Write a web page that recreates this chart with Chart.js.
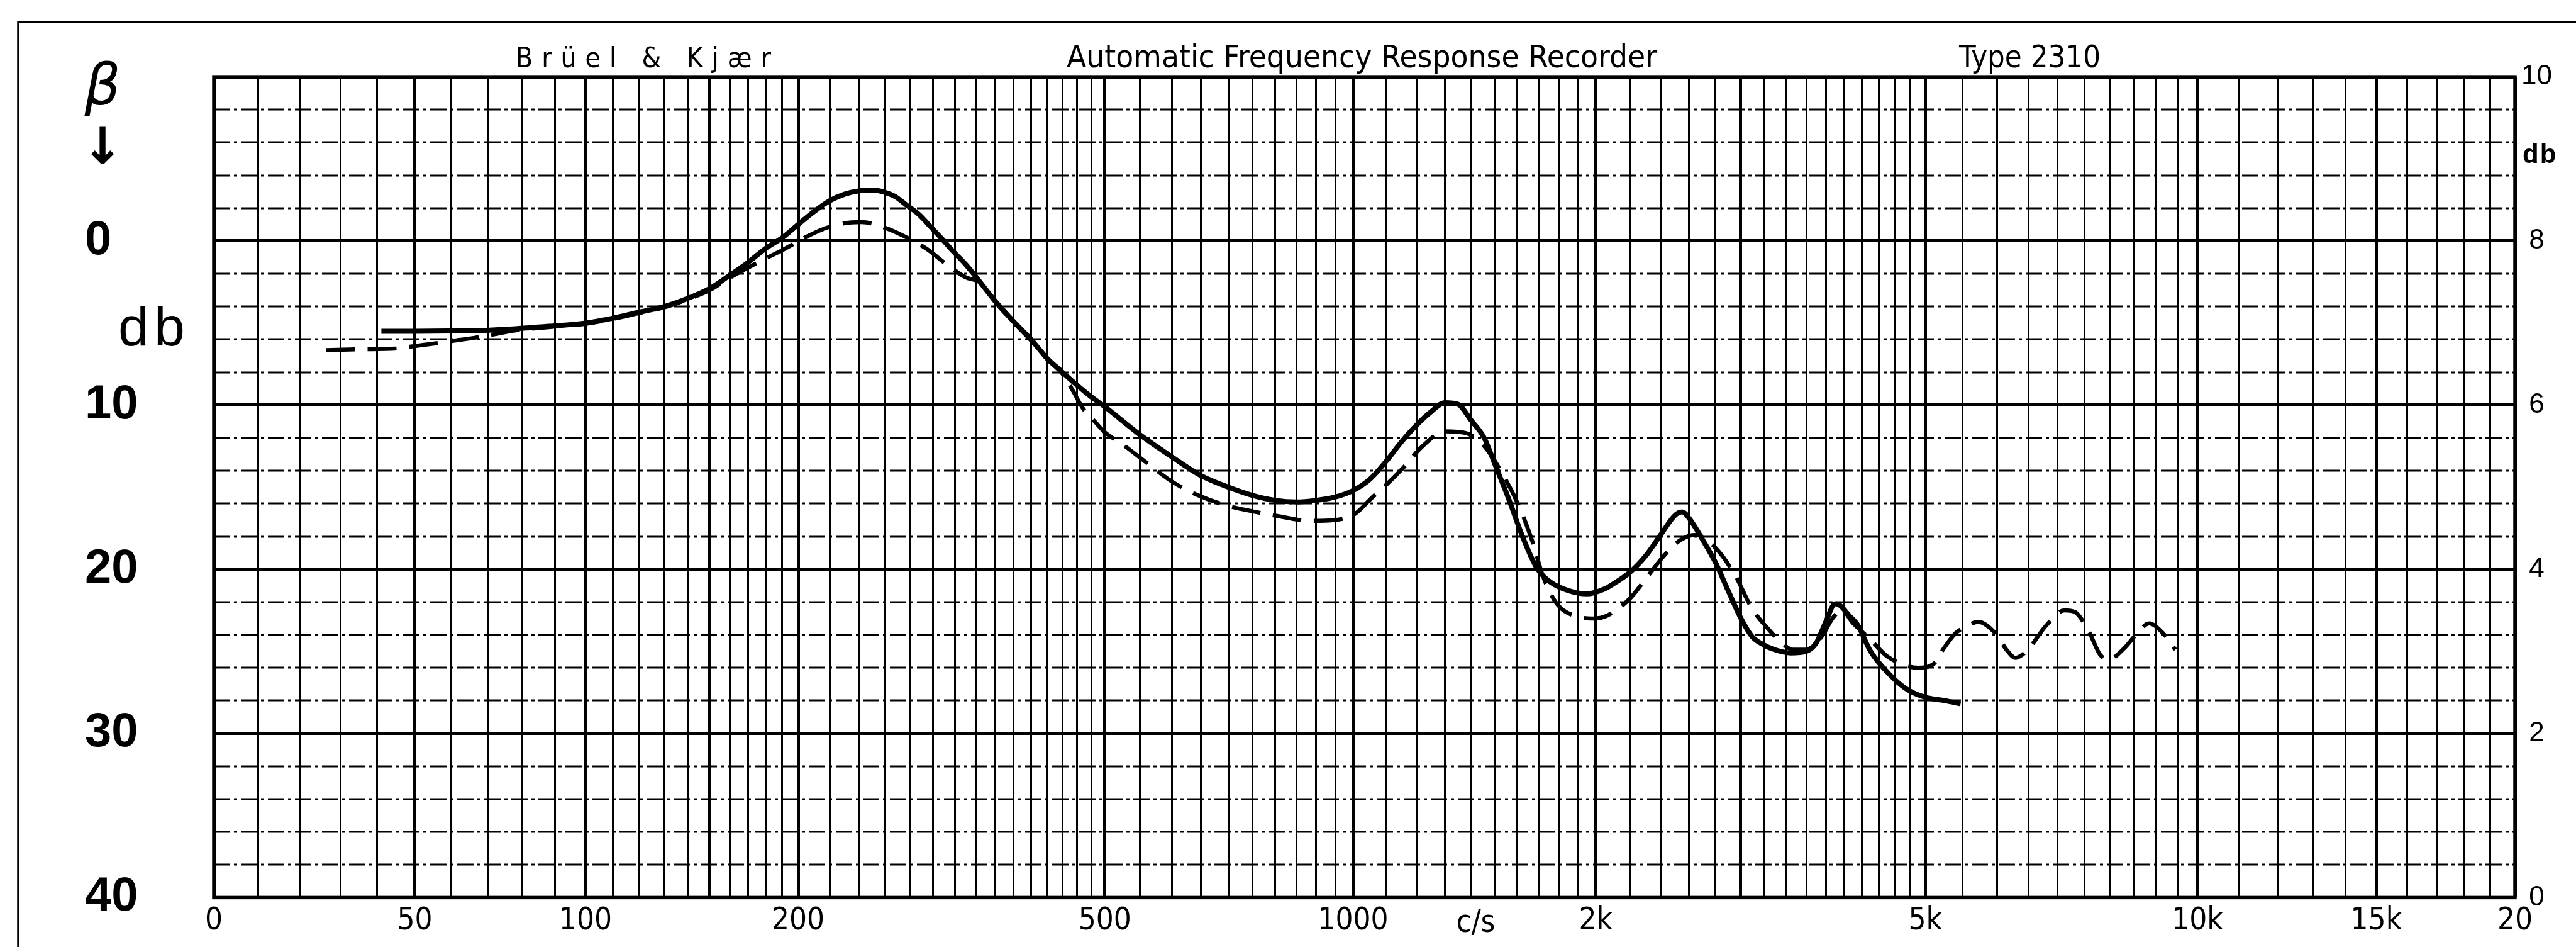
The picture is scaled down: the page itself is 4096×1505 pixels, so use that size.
<!DOCTYPE html>
<html>
<head>
<meta charset="utf-8">
<script src="https://cdn.jsdelivr.net/npm/chart.js@4.4.1/dist/chart.umd.min.js"></script>
<style>
  html, body { margin: 0; padding: 0; background: #fff; }
  #wrap { width: 4096px; height: 1505px; }
</style>
</head>
<body>
<div id="wrap"><canvas id="recorder" width="4096" height="1505"></canvas></div>
<script>
// frequency scale printed on the 2310 paper (c/s -> percent of chart width)
const paperFreqs = [0, 10, 20, 30, 40, 50, 60, 70, 80, 90, 100, 120, 150, 200, 300, 400, 500, 700,
  1000, 1500, 2000, 3000, 5000, 7000, 10000, 15000, 20000];
const paperPos = [0, 1.92, 3.74, 5.50, 7.10, 8.73, 10.33, 11.94, 13.40, 14.82, 16.15, 18.45, 21.55, 25.39,
  31.24, 35.51, 38.72, 44.09, 49.51, 55.67, 60.05, 66.33, 74.37, 80.13, 86.20, 93.97, 100];

// printed grid: [from, to, step] in c/s
const gridSteps = [[0, 200, 10], [200, 500, 20], [500, 1000, 50], [1000, 2000, 100],
  [2000, 5000, 200], [5000, 10000, 500], [10000, 20000, 1000]];

const tickFreqs = [0, 50, 100, 200, 500, 1000, 2000, 5000, 10000, 15000, 20000];
const tickLabels = ['0', '50', '100', '200', '500', '1000', '2k', '5k', '10k', '15k', '20'];
const heavyFreqs = [0, 50, 100, 150, 200, 500, 1000, 2000, 3000, 5000, 10000, 15000, 20000];

// level, db (left scale goes down), right scale 0..10
const dbLabels = [0, 10, 20, 30, 40];
const rightLabels = [0, 2, 4, 6, 8, 10];

// solid trace
const solidHz = [41, 50, 60, 68, 78, 88, 100, 110, 120, 130, 140, 150, 160, 170, 180, 190, 200, 210, 220, 230,
  240, 250, 258, 268, 277, 288, 299, 310, 318, 330, 340, 360, 380, 400, 420, 440, 460, 480, 500, 550,
  600, 650, 700, 750, 800, 850, 900, 950, 1000, 1050, 1100, 1150, 1200, 1250, 1300, 1350, 1400, 1455, 1500, 1560,
  1620, 1690, 1760, 1850, 1950, 2050, 2100, 2200, 2300, 2400, 2500, 2550, 2600, 2700, 2800, 2900, 3000, 3100, 3200, 3300,
  3450, 3600, 3700, 3800, 3900, 3950, 4050, 4150, 4300, 4550, 4750, 5000, 5250, 5470];
const solidDb = [5.5, 5.5, 5.48, 5.45, 5.35, 5.2, 5.0, 4.7, 4.35, 4.0, 3.5, 2.9, 2.1, 1.3, 0.45, -0.2, -1.0, -1.8, -2.45, -2.85,
  -3.05, -3.1, -3.0, -2.7, -2.2, -1.6, -0.8, 0.0, 0.6, 1.4, 2.15, 3.65, 4.9, 6.0, 7.15, 8.0, 8.8, 9.5, 10.1, 11.8,
  13.15, 14.3, 15.0, 15.5, 15.8, 15.9, 15.8, 15.6, 15.2, 14.5, 13.4, 12.2, 11.2, 10.4, 9.85, 9.95, 10.9, 12.0, 13.6, 15.7,
  17.9, 19.9, 20.8, 21.3, 21.5, 21.2, 20.9, 20.2, 19.2, 17.9, 16.7, 16.5, 16.9, 18.2, 19.6, 21.3, 22.9, 24.1, 24.6, 24.9,
  25.1, 25.0, 24.5, 23.2, 22.1, 22.2, 22.8, 23.4, 25.0, 26.5, 27.3, 27.8, 28.0, 28.2];

// dashed trace
const dashHz = [26, 35, 45, 50, 55, 60, 66, 70, 78, 88, 100, 110, 120, 130, 140, 150, 160, 167, 180, 190,
  204, 215, 228, 242, 260, 275, 295, 312, 330, 345, 360, 380, 400, 420, 440, 455, 468, 485, 500, 525,
  560, 600, 645, 695, 755, 815, 880, 950, 1007, 1052, 1097, 1150, 1220, 1300, 1380, 1455, 1525, 1605, 1672, 1720,
  1790, 1904, 1990, 2070, 2200, 2300, 2420, 2540, 2650, 2800, 2960, 3100, 3250, 3350, 3470, 3600, 3700, 3770, 3870, 3970,
  4100, 4300, 4500, 4700, 4900, 5100, 5245, 5400, 5544, 5720, 5950, 6166, 6283, 6400, 6512, 6804, 7124, 7312, 7579, 7798,
  7970, 8300, 8604, 8837, 9160, 9453];
const dashDb = [6.65, 6.6, 6.55, 6.4, 6.25, 6.1, 5.9, 5.75, 5.45, 5.25, 5.05, 4.75, 4.4, 4.05, 3.55, 3.0, 2.25, 1.8, 1.06, 0.56,
  -0.2, -0.7, -1.05, -1.15, -0.8, -0.3, 0.5, 1.4, 2.2, 2.55, 3.7, 4.95, 6.05, 7.2, 8.1, 9.2, 10.2, 11.0, 11.65, 12.4,
  13.5, 14.65, 15.5, 16.1, 16.5, 16.8, 17.05, 17.0, 16.6, 15.7, 14.9, 13.9, 12.5, 11.6, 11.7, 12.5, 14.0, 16.1, 18.4, 20.4,
  22.1, 22.9, 23.0, 22.8, 21.8, 20.6, 19.2, 18.2, 17.9, 18.7, 20.4, 22.4, 23.7, 24.4, 24.9, 24.9, 24.5, 24.0, 23.0, 22.5,
  23.3, 24.3, 25.3, 25.8, 26.0, 25.8, 24.8, 23.9, 23.5, 23.2, 23.8, 25.0, 25.4, 25.2, 24.8, 23.4, 22.5, 22.6, 23.8, 25.2,
  25.5, 24.8, 23.8, 23.3, 23.9, 24.9];

function paperX(f) {
  for (let i = 0; i < paperFreqs.length - 1; i++) {
    const f0 = paperFreqs[i], f1 = paperFreqs[i + 1];
    if (f <= f1) {
      const t = f0 === 0 ? f / f1 : Math.log(f / f0) / Math.log(f1 / f0);
      return paperPos[i] + t * (paperPos[i + 1] - paperPos[i]);
    }
  }
  return 100;
}

const gridFreqs = [0];
gridSteps.forEach(([a, b, s]) => { for (let f = a + s; f <= b; f += s) gridFreqs.push(f); });
const dbGrid = [];
for (let v = -10; v <= 40; v += 2) dbGrid.push(v);

const narrow = '"Liberation Sans Narrow", "DejaVu Sans Condensed", "Liberation Sans", sans-serif';
const plain = '"Liberation Sans", Arial, sans-serif';

// extra paper print: frame, header, hand lettering
const paperPlugin = {
  id: 'paper',
  beforeDraw(chart) {
    const c = chart.ctx;
    c.save();
    c.fillStyle = '#fff';
    c.fillRect(0, 0, chart.width, chart.height);
    c.restore();
  },
  beforeDatasetsDraw(chart) {
    const { ctx, chartArea: a, scales: { y } } = chart;
    ctx.save();
    ctx.strokeStyle = '#000';
    ctx.lineWidth = 2.8;
    ctx.setLineDash([26, 6, 5, 6]);
    dbGrid.forEach(v => {
      if (v % 10 === 0) return;
      const py = Math.round(y.getPixelForValue(v));
      ctx.beginPath();
      ctx.moveTo(a.left, py);
      ctx.lineTo(a.right, py);
      ctx.stroke();
    });
    ctx.setLineDash([]);
    ctx.lineWidth = 5.5;
    ctx.strokeRect(a.left, a.top, a.right - a.left, a.bottom - a.top);
    ctx.restore();
  },
  afterDraw(chart) {
    const { ctx, chartArea: a, scales: { x } } = chart;
    ctx.save();
    ctx.fillStyle = '#000';
    ctx.strokeStyle = '#000';

    // outer frame of the sheet
    ctx.lineWidth = 3.5;
    ctx.beginPath();
    ctx.moveTo(29, chart.height);
    ctx.lineTo(29, 35);
    ctx.lineTo(chart.width, 35);
    ctx.stroke();

    // header, squeezed to the printed widths
    const fit = (text, x0, x1, base, font, spread) => {
      ctx.font = font;
      ctx.textAlign = 'left';
      ctx.textBaseline = 'alphabetic';
      if (spread) {
        ctx.letterSpacing = '0px';
        const w0 = ctx.measureText(text).width;
        ctx.letterSpacing = ((x1 - x0 - w0) / (text.length - 1)) + 'px';
        ctx.fillText(text, x0, base);
        ctx.letterSpacing = '0px';
      } else {
        const w = ctx.measureText(text).width;
        ctx.save();
        ctx.translate(x0, base);
        ctx.scale((x1 - x0) / w, 1);
        ctx.fillText(text, 0, 0);
        ctx.restore();
      }
    };
    fit('Brüel & Kjær', 820, 1226, 107, '44px ' + narrow, true);
    fit('Automatic Frequency Response Recorder', 1696, 2635, 107, '50px ' + narrow, false);
    fit('Type 2310', 3115, 3340, 107, '50px ' + narrow, false);

    // hand lettering on the left
    ctx.textAlign = 'center';
    ctx.textBaseline = 'alphabetic';
    ctx.font = 'italic 90px "DejaVu Sans", sans-serif';
    ctx.fillText('β', 163, 166);
    ctx.font = 'bold 80px "DejaVu Sans", sans-serif';
    ctx.textBaseline = 'middle';
    ctx.fillText('↓', 163, 239);
    ctx.textBaseline = 'alphabetic';
    ctx.textAlign = 'left';
    ctx.font = '88px ' + plain;
    ctx.letterSpacing = '8px';
    ctx.fillText('db', 188, 549);
    ctx.letterSpacing = '2px';
    ctx.font = 'bold 42px ' + plain;
    ctx.fillText('db', a.right + 12, 259);
    ctx.letterSpacing = '0px';

    // unit beside the frequency labels
    ctx.font = '49px ' + narrow;
    ctx.textAlign = 'center';
    ctx.textBaseline = 'top';
    ctx.fillText('c/s', x.getPixelForValue(paperX(1420)), a.bottom + 17);
    ctx.restore();
  }
};

const ctx = document.getElementById('recorder').getContext('2d');
new Chart(ctx, {
  type: 'line',
  data: {
    datasets: [
      {
        label: 'solid',
        data: solidHz.map((f, i) => ({ x: paperX(f), y: solidDb[i] })),
        borderColor: '#000',
        borderWidth: 8,
        cubicInterpolationMode: 'monotone',
        pointRadius: 0,
        fill: false
      },
      {
        label: 'dashed',
        data: dashHz.map((f, i) => ({ x: paperX(f), y: dashDb[i] })),
        borderColor: '#000',
        borderWidth: 6.5,
        borderDash: [46, 20],
        cubicInterpolationMode: 'monotone',
        pointRadius: 0,
        fill: false
      }
    ]
  },
  options: {
    responsive: false,
    animation: false,
    devicePixelRatio: 1,
    layout: { padding: { left: 135, top: 122.1, right: 0, bottom: 0 } },
    plugins: { legend: { display: false }, tooltip: { enabled: false } },
    scales: {
      x: {
        type: 'linear',
        min: 0,
        max: 100,
        afterBuildTicks: s => { s.ticks = gridFreqs.map(f => ({ value: paperX(f) })); },
        afterFit: s => { s.height = 78.6; },
        ticks: {
          autoSkip: false,
          maxRotation: 0,
          padding: 8,
          color: '#000',
          font: { family: narrow, size: 49 },
          callback: (v, i) => {
            const k = tickFreqs.indexOf(gridFreqs[i]);
            return k >= 0 ? tickLabels[k] : '';
          }
        },
        grid: {
          drawTicks: false,
          color: '#000',
          lineWidth: c => heavyFreqs.includes(gridFreqs[c.index]) ? 5 : 3
        },
        border: { display: false }
      },
      y: {
        type: 'linear',
        position: 'left',
        reverse: true,
        min: -10,
        max: 40,
        afterBuildTicks: s => { s.ticks = dbGrid.map(v => ({ value: v })); },
        afterFit: s => { s.width = 205; },
        ticks: {
          autoSkip: false,
          crossAlign: 'far',
          padding: 0,
          color: '#000',
          font: { family: plain, size: 76, weight: 'bold' },
          callback: v => dbLabels.includes(v) ? String(v) : ''
        },
        grid: {
          drawTicks: false,
          color: c => c.tick && c.tick.value % 10 === 0 ? '#000' : 'rgba(0,0,0,0)',
          lineWidth: 5
        },
        border: { display: false }
      },
      y2: {
        type: 'linear',
        position: 'right',
        min: 0,
        max: 10,
        afterBuildTicks: s => { s.ticks = rightLabels.map(v => ({ value: v })); },
        afterFit: s => { s.width = 97; },
        ticks: {
          autoSkip: false,
          crossAlign: 'center',
          padding: 10,
          color: '#000',
          font: { family: plain, size: 44 },
          callback: v => String(v)
        },
        grid: { display: false, drawTicks: false },
        border: { display: false }
      }
    }
  },
  plugins: [paperPlugin]
});
</script>
</body>
</html>
